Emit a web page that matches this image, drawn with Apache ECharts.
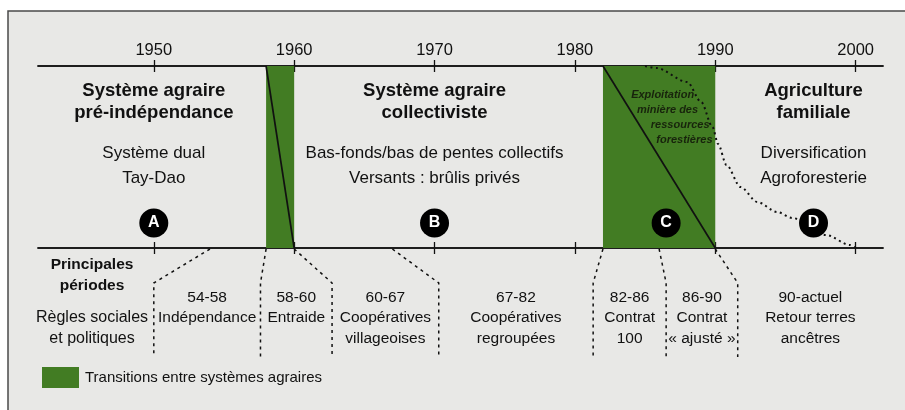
<!DOCTYPE html>
<html><head><meta charset="utf-8">
<script src="https://cdn.jsdelivr.net/npm/echarts@6/dist/echarts.min.js"></script>
<style>html,body{margin:0;padding:0;background:#fff}#c{width:905px;height:410px}</style>
</head><body><div id="c"></div>
<script>
// ---- data ----
const tickYears = [1950, 1960, 1970, 1980, 1990, 2000];
const transitionStart = [1958, 1982];
const transitionEnd = [1960, 1990];
const systemCenters = [1950, 1970, 1997];
const systemNames = [['Système agraire', 'pré-indépendance'], ['Système agraire', 'collectiviste'], ['Agriculture', 'familiale']];
const systemDescriptions = [['Système dual', 'Tay-Dao'], ['Bas-fonds/bas de pentes collectifs', 'Versants : brûlis privés'], ['Diversification', 'Agroforesterie']];
const stageLetters = ['A', 'B', 'C', 'D'];
const stageYears = [1950, 1970, 1986.5, 1997];
const exploitationYears = [1985.0, 1985.8, 1988.0, 1989.0, 1989.8, 1990.2, 1990.8, 1991.8, 1993.0, 1994.4, 1995.5, 1997.9, 1999.6, 2000.0];
const exploitationLevels = [0, 2, 16, 36, 61, 78, 99, 121, 136, 146, 152, 169, 179, 182];
const exploitationText = ['Exploitation', 'minière des', 'ressources', 'forestières'];
const periodStartYears = [1954, 1958, 1960, 1967, 1982, 1986, 1990];
const separatorYears = [1950, 1957.6, 1962.7, 1970.3, 1981.3, 1986.5, 1991.6];
const periodRanges = ['54-58', '58-60', '60-67', '67-82', '82-86', '86-90', '90-actuel'];
const periodNames = [['Indépendance'], ['Entraide'], ['Coopératives', 'villageoises'], ['Coopératives', 'regroupées'], ['Contrat', '100'], ['Contrat', '« ajusté »'], ['Retour terres', 'ancêtres']];
const periodHeader = ['Principales', 'périodes'];
const periodHeaderSub = ['Règles sociales', 'et politiques'];
const legendLabel = 'Transitions entre systèmes agraires';

// ---- chart ----
const FONT = '"Liberation Sans", Arial, Helvetica, sans-serif';
const GREEN = '#427c23';
const INK = '#111111';
const X_MIN = 1941.75, X_MAX = 2001.95, Y_MAX = 182;

function txt(x, y, text, font, extra) {
  return { type: 'text', x: x, y: y, style: Object.assign({ text: text, x: 0, y: 0, font: font, fill: INK, align: 'center', verticalAlign: 'middle' }, extra || {}) };
}

function xAxisCfg(pos, inside, labels) {
  return {
    type: 'value', position: pos, min: X_MIN, max: X_MAX, gridIndex: 0,
    axisLine: { show: true, onZero: false, lineStyle: { color: INK, width: 1.5 } },
    axisTick: { show: true, inside: inside, length: 6, customValues: tickYears, lineStyle: { color: INK, width: 1.3 } },
    axisLabel: labels ? { show: true, customValues: tickYears, formatter: v => String(v), fontSize: 16.5, margin: 7, color: INK, fontFamily: FONT } : { show: false },
    splitLine: { show: false }
  };
}

const option = {
  backgroundColor: '#ffffff',
  animation: false,
  textStyle: { fontFamily: FONT },
  graphic: [{
    type: 'rect', z: -10, silent: true,
    shape: { x: 8, y: 11, width: 905, height: 410 },
    style: { fill: '#e8e8e6', stroke: '#4a4a4a', lineWidth: 1.5 }
  }],
  grid: { left: 38, right: 22, top: 66, bottom: 162, containLabel: false, outerBoundsMode: 'none' },
  xAxis: [xAxisCfg('top', false, true), xAxisCfg('top', true, false), xAxisCfg('bottom', false, false), xAxisCfg('bottom', true, false)],
  yAxis: { type: 'value', min: 0, max: Y_MAX, inverse: true, show: false, splitLine: { show: false } },
  legend: {
    show: true, left: 37, top: 362, icon: 'rect', itemWidth: 37, itemHeight: 21, selectedMode: false,
    data: [legendLabel],
    textStyle: { fontSize: 15, color: INK, fontFamily: FONT, padding: [0, 0, 0, 1] }
  },
  series: [
    {
      name: legendLabel, type: 'custom', z: 1,
      itemStyle: { color: GREEN },
      data: transitionStart.map((s, i) => [s, transitionEnd[i]]),
      renderItem: function (params, api) {
        const s = api.value(0), e = api.value(1);
        const p0 = api.coord([s, 0]), p1 = api.coord([e, Y_MAX]);
        return {
          type: 'group', children: [
            { type: 'rect', shape: { x: p0[0], y: p0[1], width: p1[0] - p0[0], height: p1[1] - p0[1] }, style: { fill: GREEN } },
            { type: 'line', shape: { x1: p0[0], y1: p0[1], x2: p1[0], y2: p1[1] }, style: { stroke: INK, lineWidth: 1.7 } }
          ]
        };
      }
    },
    {
      name: 'exploitation', type: 'line', z: 3, smooth: 0.3, smoothMonotone: 'x', showSymbol: false, silent: true,
      data: exploitationYears.map((y, i) => [y, exploitationLevels[i]]),
      lineStyle: { color: '#111', width: 2, type: [2, 3.5] }
    },
    {
      name: 'exploitationText', type: 'custom', z: 3, silent: true,
      data: [[0]],
      renderItem: function (params, api) {
        const xs = [1986.25, 1986.6, 1987.5, 1987.8];
        const ys = [29, 44, 59, 74];
        return {
          type: 'group', children: exploitationText.map((t, k) => {
            const p = api.coord([xs[k], ys[k]]);
            return txt(p[0], p[1], t, 'italic bold 11px ' + FONT, { fill: '#18240c' });
          })
        };
      }
    },
    {
      name: 'stages', type: 'scatter', z: 5, symbol: 'circle', symbolSize: 29, silent: true,
      itemStyle: { color: '#000', opacity: 1 },
      data: stageYears.map((y, i) => ({ value: [y, 157], name: stageLetters[i] })),
      label: { show: true, position: 'inside', formatter: p => p.name, color: '#fff', fontWeight: 'bold', fontSize: 16, fontFamily: FONT }
    },
    {
      name: 'systems', type: 'custom', z: 4, silent: true,
      data: systemCenters.map(c => [c]),
      renderItem: function (params, api) {
        const i = params.dataIndex;
        const children = [];
        systemNames[i].forEach((t, k) => {
          const p = api.coord([systemCenters[i], 25 + k * 22]);
          children.push(txt(p[0], p[1], t, 'bold 18.5px ' + FONT));
        });
        systemDescriptions[i].forEach((t, k) => {
          const p = api.coord([systemCenters[i], 87 + k * 25]);
          children.push(txt(p[0], p[1], t, '17px ' + FONT));
        });
        return { type: 'group', children: children };
      }
    },
    {
      name: 'periods', type: 'custom', z: 4, silent: true,
      data: periodStartYears.map((y, i) => [y, separatorYears[i]]),
      renderItem: function (params, api) {
        const i = params.dataIndex;
        const children = [];
        const a = api.coord([periodStartYears[i], 183]);
        const b = api.coord([separatorYears[i], 217]);
        const c = api.coord([separatorYears[i], 291]);
        children.push({ type: 'polyline', shape: { points: [a, b, c] }, style: { stroke: INK, lineWidth: 1.5, lineDash: [3, 4], fill: null } });
        const right = i + 1 < separatorYears.length ? separatorYears[i + 1] : X_MAX;
        const mid = (separatorYears[i] + right) / 2;
        const lines = [periodRanges[i]].concat(periodNames[i]);
        const ys = [231.5, 252, 272.5];
        lines.forEach((t, k) => {
          const p = api.coord([mid, ys[k]]);
          children.push(txt(p[0], p[1], t, '15.5px ' + FONT));
        });
        if (i === 0) {
          const hx = 1945.6;
          periodHeader.forEach((t, k) => {
            const p = api.coord([hx, 199 + k * 21]);
            children.push(txt(p[0], p[1], t, 'bold 15.5px ' + FONT));
          });
          periodHeaderSub.forEach((t, k) => {
            const p = api.coord([hx, 252 + k * 20.5]);
            children.push(txt(p[0], p[1], t, '16px ' + FONT));
          });
        }
        return { type: 'group', children: children };
      }
    }
  ]
};

const chart = echarts.init(document.getElementById('c'), null, { renderer: 'canvas' });
chart.setOption(option);
</script>
</body></html>
